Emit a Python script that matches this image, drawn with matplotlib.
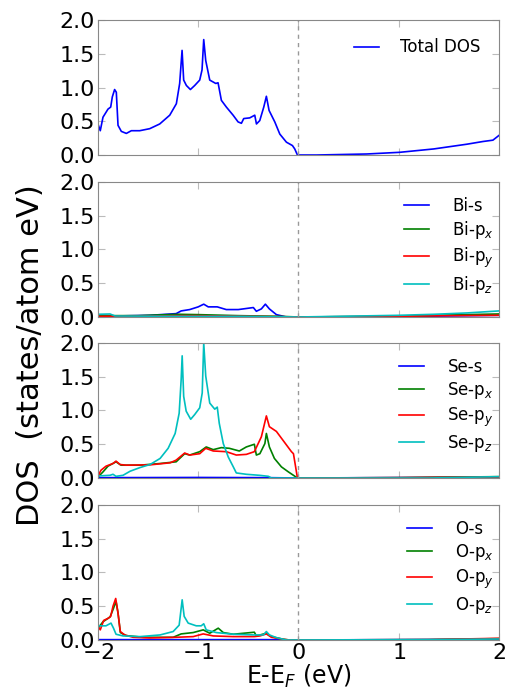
import matplotlib
matplotlib.use('Agg')
import matplotlib.pyplot as plt
import numpy as np

# ---- data ----
tot_e = [-2.0, -1.977, -1.95, -1.90, -1.873, -1.857, -1.834, -1.817, -1.80, -1.767, -1.717, -1.667,
         -1.584, -1.484, -1.384, -1.284, -1.218, -1.185, -1.161, -1.145, -1.118, -1.078, -1.035,
         -0.985, -0.962, -0.945, -0.925, -0.885, -0.825, -0.802, -0.769, -0.719, -0.652, -0.602,
         -0.569, -0.546, -0.486, -0.436, -0.419, -0.386, -0.346, -0.32, -0.293, -0.236, -0.186,
         -0.12, -0.06, -0.037, -0.01, 0.18, 0.68, 1.01, 1.35, 1.68, 1.84, 1.94, 2.0]
tot_dos = [0.46, 0.36, 0.56, 0.68, 0.71, 0.86, 0.97, 0.93, 0.44, 0.35, 0.32, 0.36,
           0.36, 0.39, 0.46, 0.59, 0.76, 1.06, 1.55, 1.11, 1.03, 0.97, 1.03,
           1.11, 1.26, 1.71, 1.40, 1.11, 1.06, 1.07, 0.81, 0.71, 0.59, 0.49,
           0.47, 0.54, 0.55, 0.59, 0.46, 0.51, 0.71, 0.87, 0.66, 0.49, 0.31,
           0.19, 0.14, 0.09, 0.0, 0.0, 0.015, 0.04, 0.09, 0.16, 0.20, 0.22, 0.29]

# Bi
bi_s_e = [-2.0, -1.82, -1.48, -1.22, -1.17, -1.085, -1.0, -0.945, -0.90, -0.81, -0.72, -0.60,
          -0.45, -0.42, -0.37, -0.33, -0.29, -0.22, -0.12, 0.68, 2.0]
bi_s = [0.025, 0.015, 0.025, 0.05, 0.09, 0.11, 0.15, 0.19, 0.15, 0.15, 0.11, 0.11,
        0.14, 0.085, 0.12, 0.19, 0.12, 0.035, 0.0, 0.0, 0.025]
bi_px_e = [-2.0, -1.6, -1.2, -1.0, -0.6, -0.2, 0.0, 1.0, 1.5, 2.0]
bi_px = [0.02, 0.02, 0.04, 0.035, 0.02, 0.01, 0.0, 0.01, 0.03, 0.045]
bi_py_e = [-2.0, -1.6, -1.2, -1.0, -0.6, -0.2, 0.0, 1.0, 1.5, 2.0]
bi_py = [0.01, 0.012, 0.02, 0.02, 0.012, 0.005, 0.0, 0.01, 0.02, 0.025]
bi_pz_e = [-2.0, -1.88, -1.83, -1.2, -0.6, 0.0, 1.0, 1.35, 1.68, 2.0]
bi_pz = [0.04, 0.045, 0.015, 0.01, 0.01, 0.0, 0.025, 0.04, 0.06, 0.09]

# Se
se_s_e = [-2.0, -1.0, -0.3, 0.0, 1.3, 2.0]
se_s = [0.005, 0.008, 0.005, 0.0, 0.008, 0.015]
se_px_e = [-2.0, -1.95, -1.90, -1.82, -1.77, -1.58, -1.38, -1.22, -1.135, -1.085, -0.985, -0.92,
           -0.85, -0.77, -0.69, -0.59, -0.52, -0.44, -0.42, -0.385, -0.335, -0.32, -0.29, -0.24,
           -0.17, -0.10, -0.01, 1.0, 2.0]
se_px = [0.015, 0.09, 0.175, 0.24, 0.19, 0.19, 0.215, 0.24, 0.36, 0.34, 0.39, 0.46,
         0.42, 0.45, 0.44, 0.40, 0.46, 0.50, 0.34, 0.36, 0.51, 0.66, 0.46, 0.29,
         0.165, 0.09, 0.0, 0.005, 0.02]
se_py_e = [-2.0, -1.97, -1.92, -1.85, -1.82, -1.78, -1.72, -1.48, -1.28, -1.22, -1.135, -1.085,
           -0.985, -0.925, -0.85, -0.72, -0.62, -0.52, -0.44, -0.37, -0.32, -0.29, -0.22, -0.12,
           -0.07, -0.05, -0.01, 1.0, 2.0]
se_py = [0.03, 0.115, 0.175, 0.215, 0.25, 0.20, 0.19, 0.195, 0.225, 0.265, 0.37, 0.34,
         0.36, 0.44, 0.40, 0.39, 0.34, 0.35, 0.39, 0.61, 0.92, 0.76, 0.69, 0.49,
         0.39, 0.36, 0.0, 0.005, 0.015]
se_pz_e = [-2.0, -1.88, -1.85, -1.82, -1.75, -1.68, -1.58, -1.48, -1.38, -1.30, -1.23, -1.19,
           -1.17, -1.16, -1.145, -1.12, -1.075, -1.035, -0.985, -0.96, -0.945, -0.925, -0.885,
           -0.835, -0.81, -0.79, -0.75, -0.70, -0.65, -0.62, -0.52, -0.39, -0.30, -0.27,
           1.3, 2.0]
se_pz = [0.03, 0.04, 0.055, 0.025, 0.04, 0.10, 0.155, 0.20, 0.29, 0.44, 0.66, 0.96,
         1.46, 1.81, 1.21, 0.99, 0.87, 0.94, 1.04, 1.26, 2.0, 1.51, 1.11,
         1.02, 1.05, 0.81, 0.51, 0.31, 0.165, 0.075, 0.055, 0.04, 0.025, 0.0,
         0.0, 0.02]

# O
o_s_e = [-2.0, -0.3, 0.0, 2.0]
o_s = [0.005, 0.005, 0.0, 0.01]
o_px_e = [-2.0, -1.95, -1.88, -1.85, -1.82, -1.80, -1.777, -1.72, -1.55, -1.25, -1.17, -1.05,
          -0.95, -0.885, -0.80, -0.75, -0.65, -0.44, -0.42, -0.32, -0.27, -0.15, -0.09, 1.3, 2.0]
o_px = [0.175, 0.27, 0.34, 0.45, 0.57, 0.40, 0.11, 0.065, 0.04, 0.04, 0.09, 0.11,
        0.15, 0.10, 0.175, 0.11, 0.085, 0.115, 0.06, 0.10, 0.05, 0.01, 0.0, 0.005, 0.02]
o_py_e = [-2.0, -1.977, -1.943, -1.90, -1.873, -1.85, -1.823, -1.80, -1.777, -1.734, -1.65, -1.48,
          -1.22, -1.05, -0.95, -0.85, -0.65, -0.44, -0.385, -0.32, -0.27, -0.15, -0.09, 1.3, 2.0]
o_py = [0.20, 0.15, 0.29, 0.32, 0.35, 0.50, 0.615, 0.40, 0.125, 0.075, 0.04, 0.03,
        0.04, 0.05, 0.09, 0.06, 0.05, 0.05, 0.06, 0.09, 0.04, 0.01, 0.0, 0.005, 0.025]
o_pz_e = [-2.0, -1.92, -1.87, -1.845, -1.82, -1.75, -1.58, -1.38, -1.25, -1.19, -1.16, -1.14,
          -1.10, -1.02, -0.97, -0.945, -0.92, -0.82, -0.65, -0.45, -0.35, -0.32, -0.29, -0.22,
          -0.12, 1.3, 2.0]
o_pz = [0.21, 0.21, 0.25, 0.175, 0.085, 0.06, 0.05, 0.075, 0.125, 0.22, 0.595, 0.35,
        0.25, 0.21, 0.21, 0.24, 0.15, 0.11, 0.085, 0.075, 0.075, 0.125, 0.075, 0.035,
        0.0, 0.005, 0.015]

orb_colors = ['#0000ff', '#008000', '#ff0000', '#00bfbf']

panels = [
    [(tot_e, tot_dos, 'Total DOS')],
    [(bi_s_e, bi_s, 'Bi-s'), (bi_px_e, bi_px, 'Bi-p$_x$'),
     (bi_py_e, bi_py, 'Bi-p$_y$'), (bi_pz_e, bi_pz, 'Bi-p$_z$')],
    [(se_s_e, se_s, 'Se-s'), (se_px_e, se_px, 'Se-p$_x$'),
     (se_py_e, se_py, 'Se-p$_y$'), (se_pz_e, se_pz, 'Se-p$_z$')],
    [(o_s_e, o_s, 'O-s'), (o_px_e, o_px, 'O-p$_x$'),
     (o_py_e, o_py, 'O-p$_y$'), (o_pz_e, o_pz, 'O-p$_z$')],
]

fig = plt.figure(figsize=(5.05, 6.97), dpi=100)
bottoms = [0.7776, 0.5452, 0.3142, 0.0818]
for k, curves in enumerate(panels):
    ax = fig.add_axes([0.194, bottoms[k], 0.794, 0.1937])
    for i, (e, d, lab) in enumerate(curves):
        ax.plot(e, d, color=orb_colors[i], lw=1.2, label=lab)
    ax.axvline(0, color='#999999', ls=(0, (3, 3)), lw=1)
    ax.set_xlim(-2, 2)
    ax.set_ylim(0, 2)
    ax.set_yticks([0, 0.5, 1.0, 1.5, 2.0])
    ax.set_yticklabels(['0.0', '0.5', '1.0', '1.5', '2.0'])
    ax.set_xticks([-2, -1, 0, 1, 2])
    for sp in ax.spines.values():
        sp.set_color('#888888')
    ax.tick_params(direction='in', colors='#bbbbbb', labelcolor='black',
                   labelsize=16, length=5, top=True, right=True, pad=2)
    if k == 0:
        ax.legend(loc='upper right', frameon=False, fontsize=12, handlelength=1.5,
                  handletextpad=1.3, borderaxespad=0.7)
    else:
        ax.legend(loc='upper right', bbox_to_anchor=(1.025, 1.0), frameon=False,
                  fontsize=12, handlelength=1.5, handletextpad=1.4,
                  labelspacing=0.25, borderaxespad=0.5)
    if k < 3:
        ax.set_xticklabels([])
    else:
        ax.set_xticklabels(['$-2$', '$-1$', '$0$', '$1$', '$2$'])
        ax.set_xlabel('E-E$_F$ (eV)', fontsize=17, labelpad=0)

fig.text(0.06, 0.49, 'DOS  (states/atom eV)', rotation=90, fontsize=22,
         ha='center', va='center')

fig.savefig('out.png', dpi=100)
